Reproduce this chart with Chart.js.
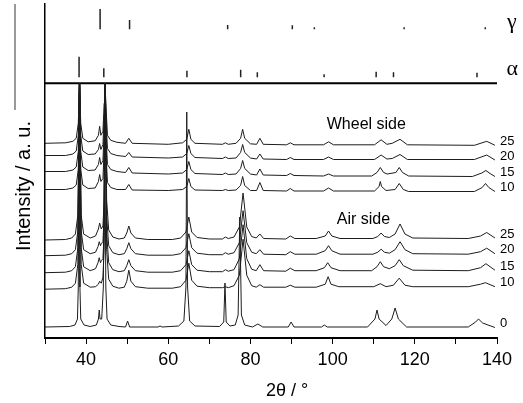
<!DOCTYPE html>
<html>
<head>
<meta charset="utf-8">
<script src="https://cdn.jsdelivr.net/npm/chart.js@4.4.1/dist/chart.umd.min.js"></script>
<style>
  html, body { margin: 0; padding: 0; background: #fff; }
  canvas { display: block; }
</style>
</head>
<body>
<canvas id="xrd" width="523" height="403"></canvas>
<script>
// curve names / right-hand labels, top to bottom
const curveLabels = ['25', '20', '15', '10', '25', '20', '15', '10', '0'];
// vertical offset of every curve (a.u.)
const curveOffsets = [194.7, 182.5, 166.5, 148.5, 98, 82.3, 65.3, 48.8, 11];
// the strong peaks run into the frame line of the reference panel
const topLine = 254.7;

// patterns: [2theta, intensity above own offset]
const wheel25 = [[30,0],[35,0.5],[36.8,2],[37.6,5],[38.1,20],[38.4,300],[38.7,20],[39.2,5],[40.5,1.5],
  [42.2,2.5],[43.0,8],[43.3,17],[43.6,8],[44.1,12],[44.4,40],[44.6,300],[44.8,40],[45.2,8],[46,3],[47.5,1],
  [49.6,0],[50.4,5],[51.2,0],[60,-1],[63.5,0.5],[64.5,4],[65.0,14],[65.5,4],[66.5,0],
  [73.2,-1],[73.9,0.5],[74.6,-1],[76.5,0],[77.6,5],[78.1,14],[78.6,5],[80,-0.5],
  [81.5,-1],[82.3,5],[83.1,-1],[88.8,-1.5],[89.7,0.5],[90.6,-1.5],[97.8,-1.5],[99,1.5],[100.2,-1.5],
  [110.2,-1.5],[111.8,3.5],[113.2,-1],[114.5,0],[116.4,4],[118.2,-1.5],[134.5,-2],[137.5,2],[139.5,-2]];
const wheel20 = [[30,0],[35,0],[36.8,1.5],[37.6,4.5],[38.1,20],[38.4,300],[38.7,20],[39.2,4.5],[40.5,1],
  [42.2,1.5],[43.0,6],[43.3,12],[43.6,6],[44.1,11],[44.4,40],[44.6,300],[44.8,40],[45.2,7],[46,2],[47.5,0],
  [49.6,-1],[50.4,3],[51.2,-1.5],[60,-2.5],[63.5,-1.5],[64.5,2],[65.0,10],[65.5,2],[66.5,-2],
  [73.2,-3],[73.9,-1.5],[74.6,-3],[76.5,-2.5],[77.6,3],[78.1,11],[78.6,3],[80,-2.5],
  [81.5,-3.5],[82.3,1.5],[83.1,-3.5],[88.8,-4],[89.7,-2],[90.6,-4],[97.8,-4],[99,-1.5],[100.2,-4],
  [110.2,-4],[111.8,0.5],[113.2,-3.5],[114.5,-3],[116.4,1],[118.2,-4],[134.5,-4],[137.5,0.5],[139.5,-4.5]];
const wheel15 = [[30,0],[35,0],[36.8,1.5],[37.6,4.5],[38.1,20],[38.4,300],[38.7,20],[39.2,4.5],[40.5,1],
  [42.2,1.5],[43.0,7],[43.3,14],[43.6,7],[44.1,11],[44.4,40],[44.6,300],[44.8,40],[45.2,7],[46,2],[47.5,0],
  [49.6,-1],[50.4,4],[51.2,-1.5],[60,-2.5],[63.5,-1.5],[64.5,2],[65.0,10],[65.5,2],[66.5,-2],
  [73.2,-3],[73.9,-1.5],[74.6,-3],[76.5,-2.5],[77.6,3],[78.1,11],[78.6,3],[80,-2.5],
  [81.5,-3.5],[82.3,2.5],[83.1,-3.5],[88.8,-4],[89.7,-2],[90.6,-4],[97.8,-4.5],[99,-2.5],[100.2,-4.5],
  [109.5,-4.5],[110.8,-1],[111.6,4],[112.4,-1],[113.3,-2.5],[115.4,-1],[116.2,4],[117,-1],[118.5,-4.5],
  [134,-5],[136.3,-1.5],[137.3,1],[138.3,-2],[139.5,-5]];
const wheel10 = [[30,0],[35,0],[36.8,1.5],[37.6,4.5],[38.1,20],[38.4,300],[38.7,20],[39.2,4.5],[40.5,1],
  [42.2,1.5],[43.0,8],[43.3,15],[43.6,8],[44.1,11],[44.4,40],[44.6,300],[44.8,40],[45.2,7],[46,2],[47.5,0],
  [49.6,0],[50.4,5],[51.2,-0.5],[60,-1],[63.5,0],[64.5,3],[65.0,11],[65.5,3],[66.5,-0.5],
  [73.2,-1],[73.9,0],[74.6,-1],[76.5,-0.5],[77.6,4],[78.1,13],[78.6,4],[80,-1],
  [81.5,-1],[82.3,7],[83.1,-1],[88.8,-1.5],[89.7,1],[90.6,-1.5],[97.8,-1.5],[99,1.5],[100.2,-1.5],
  [110.2,-1.5],[111.3,3],[111.6,8],[111.9,3],[113,-1],[115.2,0],[116.2,6],[117.2,0],[118.5,-2],
  [134.5,-2],[136.4,2],[137.2,6],[138,2],[139.5,-2]];
const air25 = [[30,0],[35,0.5],[36.5,2],[37.4,6],[38,25],[38.4,300],[38.8,25],[39.4,6],[41,2],
  [42.3,4],[43.0,11],[43.3,17],[43.7,11],[44.1,14],[44.4,40],[44.7,300],[45,40],[45.5,10],[46.5,3],[48,1],
  [49.3,2],[49.9,7],[50.4,14],[50.9,7],[52,2],[55,0.5],[61,0.5],[63,2],[64.3,8],[65.0,23],[65.7,8],[67,2.5],[70,1],
  [73.2,1],[73.9,3],[74.6,1.5],[76,3],[77.3,13],[78.2,47],[79.1,13],[80.3,3.5],
  [81.4,2],[82.3,6],[83.2,1.5],[88.6,1],[89.7,4],[90.8,1.5],[96,1.5],[98.2,4],[99,9],[99.8,4],[101.8,1.5],
  [109.8,1.5],[111,3.5],[111.8,7],[112.6,3.5],[113.8,2.5],[115.2,6],[116.4,16],[117.6,6],[119.5,2],
  [133,1.5],[136,4],[137.5,7.5],[139.5,2]];
const air20 = [[30,0],[35,0.5],[36.5,2],[37.4,6],[38,25],[38.4,300],[38.8,25],[39.4,6],[41,2],
  [42.3,3.5],[42.9,9],[43.2,14],[43.5,10],[43.7,12],[44.1,14],[44.4,40],[44.7,300],[45,40],[45.5,10],[46.5,3],[48,1],
  [49.3,2],[49.9,7],[50.4,13],[50.9,7],[52,2],[55,0.5],[61,0.5],[63,2],[64.3,8],[65.0,22],[65.7,8],[67,2.5],[70,1],
  [73.2,1],[73.9,3],[74.6,1.5],[76,3],[77.3,13],[78.2,45],[79.1,13],[80.3,3.5],
  [81.4,2],[82.3,6],[83.2,1.5],[88.6,1],[89.7,4],[90.8,1.5],[96,1.5],[98.2,5],[99,10],[99.8,5],[101.8,1.5],
  [109.8,1.5],[111,3.5],[111.8,6.5],[112.6,3.5],[113.8,2.5],[115.2,6],[116.4,14],[117.6,6],[119.5,2],
  [133,1.5],[136,4],[137.5,7.5],[139.5,2]];
const air15 = [[30,0],[35,0.5],[36.5,2],[37.4,6],[38,25],[38.4,300],[38.8,25],[39.4,6],[41,2],
  [42.3,4],[42.9,10],[43.2,15],[43.5,10],[43.7,12],[44.1,14],[44.4,40],[44.7,300],[45,40],[45.5,10],[46.5,3],[48,1],
  [49.3,2],[49.9,7],[50.4,13],[50.9,7],[52,2],[55,0.5],[61,0.5],[63,2],[64.3,8],[65.0,22],[65.7,8],[67,2.5],[70,1],
  [73.2,1],[73.9,3],[74.6,1.5],[76,3],[77.3,14],[78.2,48],[79.1,14],[80.3,3.5],
  [81.4,2],[82.3,8],[83.2,2],[88.6,1.5],[89.7,4.5],[90.8,2],[96,2],[98,5],[98.8,10],[99.6,5],[101.8,2],
  [109.5,2],[110.8,6],[111.6,11],[112.4,6],[113.8,4],[115.2,7],[116.2,13],[117.2,7],[119.5,2.5],
  [133,2],[136,5],[137.3,9],[139.5,2.5]];
const air10 = [[30,0],[35,0.5],[36.5,2],[37.4,6],[38,25],[38.4,300],[38.8,25],[39.4,6],[41,2],
  [42.3,2.5],[43.0,5],[43.3,8],[43.7,6],[44.1,12],[44.4,40],[44.7,300],[45,40],[45.5,10],[46.5,3],[48,1],
  [49.3,2],[49.9,8],[50.4,19],[50.9,8],[52,2.5],[55,1],[61,1],[63,2.5],[64.3,9],[65.0,26],[65.7,9],[67,3],[70,1.5],
  [73.2,1.5],[73.9,2.5],[74.6,1.5],[76,3.5],[77.3,14],[78.2,50],[79.1,14],[80.3,3.5],
  [81.4,2],[82.3,4.5],[83.2,2],[88.6,2],[89.7,4],[90.8,2],[96,2],[98.2,5],[98.9,12.5],[99.6,5],[101.5,2.5],
  [110,2.5],[111.6,5.5],[113,2.5],[114.8,4],[116.2,11],[117.6,4],[119.5,2.5],
  [133,2.5],[136,5],[137.2,6.5],[139.5,2.5]];
const asCast = [[30,0],[36,0.5],[37.3,2],[37.9,8],[38.1,40],[38.3,300],[38.5,40],[38.7,8],[39.5,2],[41,0.5],
  [42.5,2],[43.0,8],[43.2,17],[43.4,8],[43.8,8],[44.2,40],[44.5,300],[44.8,40],[45.1,8],[46,2],[48,0.5],
  [49.6,0],[50.1,6],[50.6,0],[57.5,0],[58,1],[58.5,0],
  [62.5,1],[63.8,6],[64.3,40],[64.5,215],[64.7,40],[65.2,6],[66.5,1],
  [72.5,0.5],[73.5,5],[73.8,44],[74.1,5],[75,1],[76.3,2],[77.0,12],[77.4,110],[77.8,12],[78.6,2],
  [80.5,0],[81.8,3],[83,0],[89.2,0],[89.9,5],[90.6,0],[97.3,0],[98,2],[98.7,0],
  [108.5,0],[110.3,8],[110.8,17],[111.3,8],[113,1.5],[114.4,8],[115.2,19],[116,8],[118,0],
  [133,0],[134.8,5],[135.5,8],[136.5,4],[139.5,-0.5]];
const curves = [wheel25, wheel20, wheel15, wheel10, air25, air20, air15, air10, asCast];

// reference sticks
const alphaBase = 260.7;
const alphaPos = [38.29, 44.31, 64.54, 77.62, 81.67, 97.92, 110.59, 114.81, 135.13];
const alphaHeights = [20.6, 9, 6.6, 7.5, 5, 3, 5.5, 5, 4.5];
const gammaBase = 308.7;
const gammaPos = [43.41, 50.58, 74.45, 90.19, 95.55, 117.4, 137.15];
const gammaHeights = [20.3, 9.3, 4.3, 4, 2, 2, 2];

//text notes placed in data coordinates
const notes = [
  { text: 'Wheel side', x: 108.2, y: 213.7 },
  { text: 'Air side', x: 107.5, y: 118.7 }
];

function sticks(pos, heights, base) {
  let pts = [];
  pos.forEach((p, i) => {
    pts.push({ x: p, y: base }, { x: p, y: base + heights[i] }, { x: p, y: null });
  });
  return pts;
}

let datasets = curves.map((c, i) => ({
  data: c.map(p => ({ x: p[0], y: Math.min(p[1] + curveOffsets[i], topLine) })),
  borderColor: '#1c1c1c',
  borderWidth: 1
}));
datasets.push({ data: [{ x: 30, y: topLine }, { x: 140, y: topLine }], borderColor: '#000', borderWidth: 2 });
datasets.push({ data: sticks(alphaPos, alphaHeights, alphaBase), borderColor: '#222', borderWidth: 1.5, spanGaps: false });
datasets.push({ data: sticks(gammaPos, gammaHeights, gammaBase), borderColor: '#222', borderWidth: 1.5, spanGaps: false });

const textPlugin = {
  id: 'texts',
  afterDraw(chart) {
    const { ctx, scales: { x, y } } = chart;
    ctx.save();
    ctx.fillStyle = '#000';
    // curve labels at the right end
    ctx.font = '13px "Liberation Sans", Arial, sans-serif';
    ctx.textAlign = 'left';
    ctx.textBaseline = 'middle';
    curves.forEach((c, i) => {
      let last = c[c.length - 1];
      ctx.fillText(curveLabels[i], x.getPixelForValue(140) + 3, y.getPixelForValue(last[1] + curveOffsets[i]) - 4);
    });
    ctx.font = '16px "Liberation Sans", Arial, sans-serif';
    ctx.textAlign = 'center';
    notes.forEach(n => ctx.fillText(n.text, x.getPixelForValue(n.x), y.getPixelForValue(n.y)));
    // phase symbols
    ctx.font = '22px "Liberation Serif", "DejaVu Serif", serif';
    ctx.textBaseline = 'alphabetic';
    ctx.fillText('γ', x.getPixelForValue(143.6), y.getPixelForValue(310));
    ctx.fillText('α', x.getPixelForValue(143.7), y.getPixelForValue(263));
    // axis titles
    ctx.font = '18px "Liberation Sans", Arial, sans-serif';
    ctx.textBaseline = 'middle';
    ctx.fillText('2θ / °', (x.left + x.right) / 2 + 16, 391);
    ctx.translate(24, 186);
    ctx.rotate(-Math.PI / 2);
    ctx.font = '20px "Liberation Sans", Arial, sans-serif';
    ctx.fillText('Intensity / a. u.', 0, 0);
    ctx.restore();
    // leftover frame line of the stick panel
    ctx.save();
    ctx.strokeStyle = '#777';
    ctx.lineWidth = 1.5;
    ctx.beginPath();
    ctx.moveTo(15, y.top);
    ctx.lineTo(15, 110);
    ctx.stroke();
    ctx.restore();
  }
};

let chart = new Chart(document.getElementById('xrd').getContext('2d'), {
  type: 'line',
  data: { datasets: datasets },
  options: {
    responsive: false,
    animation: false,
    devicePixelRatio: 1,
    layout: { padding: { top: 4, right: 26, left: 0, bottom: 0 } },
    elements: { point: { radius: 0 }, line: { tension: 0 } },
    plugins: { legend: { display: false }, tooltip: { enabled: false } },
    scales: {
      x: {
        type: 'linear', min: 30, max: 140, offset: false,
        ticks: {
          stepSize: 10, autoSkip: false, maxRotation: 0, padding: 5, color: '#000',
          font: { size: 18, family: '"Liberation Sans", Arial, sans-serif' },
          callback: v => (v % 20 === 0 ? v : '')
        },
        grid: { drawOnChartArea: false, tickLength: 6, color: '#000', lineWidth: 1 },
        border: { color: '#000', width: 2 },
        afterFit: s => { s.height = 65; }
      },
      y: {
        min: 0, max: 334,
        ticks: { display: false },
        grid: { drawOnChartArea: false, drawTicks: false },
        border: { color: '#000', width: 1.5 },
        afterFit: s => { s.width = 45; }
      }
    }
  },
  plugins: [textPlugin]
});
</script>
</body>
</html>
